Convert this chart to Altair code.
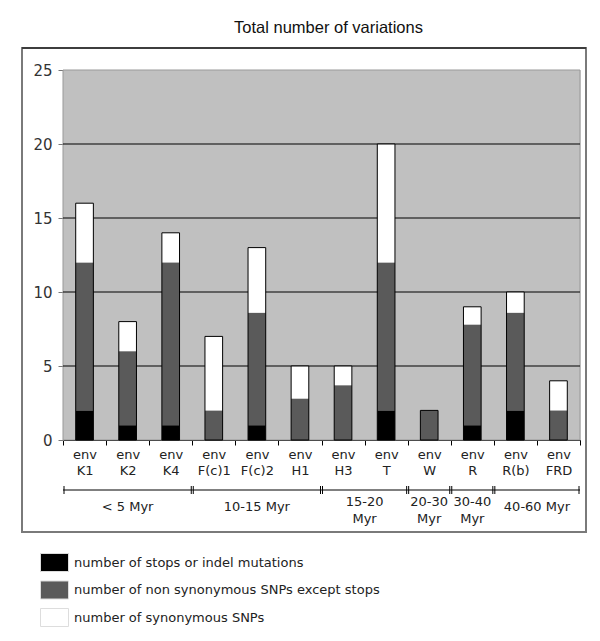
import altair as alt
import pandas as pd

# ---------------- data ----------------
title_text = ["Total number of variations"]
categories = ["env K1", "env K2", "env K4", "env F(c)1", "env F(c)2", "env H1",
              "env H3", "env T", "env W", "env R", "env R(b)", "env FRD"]
stops = [2, 1, 1, 0, 1, 0, 0, 2, 0, 1, 2, 0]
nonsyn = [10, 5, 11, 2, 7.6, 2.8, 3.7, 10, 2, 6.8, 6.6, 2]
syn = [4, 2, 2, 5, 4.4, 2.2, 1.3, 8, 0, 1.2, 1.4, 2]

series_names = ["number of stops or indel mutations",
                "number of non synonymous SNPs except stops",
                "number of synonymous SNPs"]
series_colors = ["#000000", "#5a5a5a", "#ffffff"]

group_labels = ["< 5 Myr", "10-15 Myr", "15-20\nMyr", "20-30\nMyr", "30-40\nMyr", "40-60 Myr"]
group_start = [0, 3, 6, 8, 9, 10]
group_end = [3, 6, 8, 9, 10, 12]

y_ticks = [0, 5, 10, 15, 20, 25]
grid_values = [5, 10, 15, 20]

# ---------------- tables ----------------
rows = []
for i, c in enumerate(categories):
    for k, vals in enumerate([stops, nonsyn, syn]):
        rows.append({"category": c, "series": series_names[k], "value": vals[i], "ord": k})
df_long = pd.DataFrame(rows)
df_tot = pd.DataFrame({"category": categories,
                       "value": [a + b + c for a, b, c in zip(stops, nonsyn, syn)]})
df_groups = pd.DataFrame({"label": group_labels, "start": group_start, "end": group_end})
df_groups["mid"] = (df_groups["start"] + df_groups["end"]) / 2
df_grid = pd.DataFrame({"value": grid_values})
df_one = pd.DataFrame({"a": [0]})
df_title = pd.DataFrame({"t": title_text})

W = 517
H = 370
FONT = "DejaVu Sans"

xband = alt.Scale(domain=categories, paddingInner=0, paddingOuter=0)
yscale = alt.Scale(domain=[0, 25], nice=False)
xq = alt.Scale(domain=[0, 12], nice=False, zero=False)

y_axis = alt.Axis(values=y_ticks, grid=False, title=None, domainColor="#777",
                  tickColor="#777", tickSize=5, labelPadding=6, labelFontSize=15,
                  labelFont=FONT, labelColor="#333")

x_axis = alt.Axis(title=None, labelExpr="split(datum.label, ' ')", tickBand="extent",
                  domainColor="black", tickColor="black", tickSize=5, labelPadding=3,
                  labelLineHeight=16, labelFontSize=13, labelFont=FONT, labelColor="#222",
                  labelAngle=0, grid=False)

plot_bg = alt.Chart(df_one).mark_rect(fill="#c0c0c0", stroke="#999999", strokeWidth=1).encode(
    x=alt.value(0), x2=alt.value(W), y=alt.value(0), y2=alt.value(H))
box = alt.Chart(df_one).mark_rect(fill="transparent", stroke="#7a7a7a", strokeWidth=2).encode(
    x=alt.value(-41), x2=alt.value(523), y=alt.value(-22), y2=alt.value(462))
box_top = alt.Chart(df_one).mark_rule(color="black", strokeWidth=1).encode(
    x=alt.value(-41), x2=alt.value(523), y=alt.value(-22))
title = alt.Chart(df_title).mark_text(font="Liberation Sans", fontSize=16.5, color="#111",
                                      align="center", baseline="alphabetic").encode(
    x=alt.value(265.5), y=alt.value(-37.5), text="t:N")

grid = alt.Chart(df_grid).mark_rule(color="black", strokeWidth=1.2).encode(
    y=alt.Y("value:Q", scale=yscale, axis=y_axis))

bars = alt.Chart(df_long).mark_bar(width=alt.RelativeBandSize(0.41)).encode(
    x=alt.X("category:N", sort=categories, scale=xband, axis=x_axis),
    y=alt.Y("value:Q", stack="zero", scale=yscale, axis=y_axis),
    color=alt.Color("series:N", scale=alt.Scale(domain=series_names, range=series_colors),
                    legend=alt.Legend(title=None, orient="none", legendX=-23, legendY=478,
                                      symbolType="M-1,-0.643H1V0.643H-1Z", symbolSize=784,
                                      symbolStrokeColor="#dddddd", symbolStrokeWidth=1,
                                      symbolOpacity=1, labelFontSize=13, labelFont=FONT,
                                      labelColor="#222", labelOffset=5, rowPadding=1.5,
                                      padding=0, labelLimit=500)),
    order=alt.Order("ord:Q"))

outline = alt.Chart(df_tot).mark_bar(width=alt.RelativeBandSize(0.41), fill="transparent",
                                     stroke="black", strokeWidth=1).encode(
    x=alt.X("category:N", sort=categories, scale=xband, axis=None),
    y=alt.Y("value:Q", scale=yscale, axis=y_axis))

bracket = alt.Chart(df_groups).mark_rule(color="black", strokeWidth=1).encode(
    x=alt.X("start:Q", scale=xq, axis=None), x2="end:Q", y=alt.value(H + 50))
tick_s = alt.Chart(df_groups).mark_rule(color="black", strokeWidth=1, xOffset=1).encode(
    x=alt.X("start:Q", scale=xq, axis=None), y=alt.value(H + 46), y2=alt.value(H + 54))
tick_e = alt.Chart(df_groups).mark_rule(color="black", strokeWidth=1, xOffset=-1).encode(
    x=alt.X("end:Q", scale=xq, axis=None), y=alt.value(H + 46), y2=alt.value(H + 54))
glabels1 = alt.Chart(df_groups).transform_filter(
    "indexof(datum.label, '\\n') < 0"
).mark_text(baseline="middle", fontSize=13, font=FONT, color="#222").encode(
    x=alt.X("mid:Q", scale=xq, axis=None), y=alt.value(H + 67), text="label:N")
glabels2 = alt.Chart(df_groups).transform_filter(
    "indexof(datum.label, '\\n') >= 0"
).mark_text(lineBreak="\n", baseline="middle", fontSize=13, font=FONT, color="#222",
            lineHeight=17).encode(
    x=alt.X("mid:Q", scale=xq, axis=None), y=alt.value(H + 62), text="label:N")

chart = alt.layer(plot_bg, box, box_top, title, grid, bars, outline, bracket, tick_s, tick_e,
                  glabels1, glabels2).resolve_scale(
    x="independent"
).properties(
    width=W, height=H,
    autosize=alt.AutoSizeParams(type="none"),
    padding={"left": 55, "top": 62, "right": 10, "bottom": 189},
).configure_view(stroke=None).configure(background="white")

chart.save("out.html", embed_options={"renderer": "svg", "actions": False})
